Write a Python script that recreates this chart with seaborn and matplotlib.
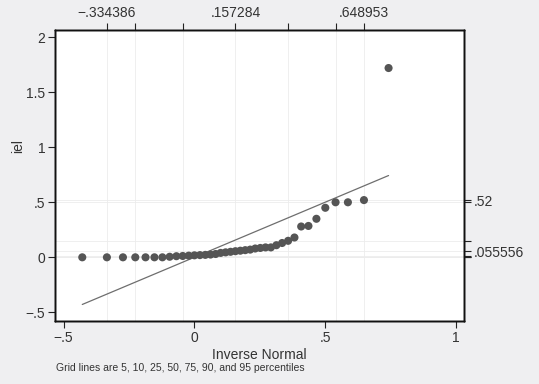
import matplotlib
matplotlib.use("Agg")
import matplotlib.pyplot as plt
import numpy as np
import pandas as pd
import seaborn as sns
from statistics import NormalDist

# sorted values of iel (39 obs)
iel = [0, 0, 0, 0, 0, 0, 0, 0.005, 0.01, 0.012,
       0.015, 0.018, 0.02, 0.022, 0.025, 0.03, 0.04, 0.045, 0.05, 0.055556,
       0.06, 0.065, 0.07, 0.08, 0.085, 0.09, 0.09, 0.11, 0.13, 0.15,
       0.18, 0.28, 0.285, 0.35, 0.45, 0.5, 0.5, 0.52, 1.72]

# mean and sd of iel (from the top axis labels)
mean_iel = 0.157284
sd_iel = 0.29891

# grid positions: normal quantiles (top) and data percentiles (right)
top_ticks = [-0.334386, -0.2258, -0.0443, 0.157284, 0.3589, 0.5404, 0.648953]
top_labels = ["\u2212.334386", "", "", ".157284", "", "", ".648953"]
right_ticks = [0, 0, 0.012, 0.055556, 0.15, 0.5, 0.52]
right_labels = ["", "", "", ".055556", "", "", ".52"]

bottom_ticks = [-0.5, 0, 0.5, 1]
bottom_labels = ["\u2212.5", "0", ".5", "1"]
left_ticks = [-0.5, 0, 0.5, 1, 1.5, 2]
left_labels = ["\u2212.5", "0", ".5", "1", "1.5", "2"]

# inverse normal x positions like qnorm does, p = i/(n+1)
n = len(iel)
nd = NormalDist(mean_iel, sd_iel)
inv_normal = [nd.inv_cdf(i / (n + 1)) for i in range(1, n + 1)]
df = pd.DataFrame({"inv": inv_normal, "iel": iel})

sns.set_theme(style="white")
plt.rcParams["font.family"] = ["Liberation Sans", "DejaVu Sans"]

bg = "#efeff1"
fig = plt.figure(figsize=(5.39, 3.84), dpi=100, facecolor=bg)
ax = fig.add_axes([0.102, 0.164, 0.759, 0.758])
ax.set_facecolor("white")

xlim = (-0.533, 1.032)
ylim = (-0.579, 2.066)

# grid lines
for t in top_ticks:
    ax.axvline(t, color="#ececec", lw=0.6, zorder=0)
for t in right_ticks:
    ax.axhline(t, color="#ececec", lw=0.6, zorder=0)

# reference line y = x
ref = pd.DataFrame({"x": [inv_normal[0], inv_normal[-1]], "y": [inv_normal[0], inv_normal[-1]]})
sns.lineplot(data=ref, x="x", y="y", color="#6e6e6e", lw=0.9, ax=ax, zorder=2)

sns.scatterplot(data=df, x="inv", y="iel", color="#555555", s=34,
                edgecolor="none", ax=ax, zorder=3)

ax.set_xlim(xlim)
ax.set_ylim(ylim)
ax.set_xticks(bottom_ticks)
ax.set_xticklabels(bottom_labels)
ax.set_yticks(left_ticks)
ax.set_yticklabels(left_labels)
ax.set_xlabel("Inverse Normal", fontsize=10, color="#333333", labelpad=2)
ax.set_ylabel("iel", fontsize=10, color="#333333")
ax.yaxis.set_label_coords(-0.072, 0.6)
ax.tick_params(axis="both", direction="out", length=5, width=0.8, color="#222222",
               labelsize=10, labelcolor="#333333", pad=2)

for sp in ax.spines.values():
    sp.set_color("#111111")
    sp.set_linewidth(1.0)

# top axis
axt = ax.twiny()
axt.set_xlim(xlim)
axt.set_xticks(top_ticks)
axt.set_xticklabels(top_labels)
axt.tick_params(axis="x", direction="out", length=5, width=0.8, color="#222222",
                labelsize=10, labelcolor="#333333", pad=2)

# right axis
axr = ax.twinx()
axr.set_ylim(ylim)
axr.set_yticks(right_ticks)
axr.set_yticklabels(right_labels)
axr.tick_params(axis="y", direction="out", length=5, width=0.8, color="#222222",
                labelsize=10, labelcolor="#333333", pad=2)
for a in (axt, axr):
    for sp in a.spines.values():
        sp.set_color("#111111")
        sp.set_linewidth(1.0)

fig.text(0.104, 0.035, "Grid lines are 5, 10, 25, 50, 75, 90, and 95 percentiles",
         fontsize=7.5, color="#333333")

fig.savefig("out.png", dpi=100, facecolor=bg)
